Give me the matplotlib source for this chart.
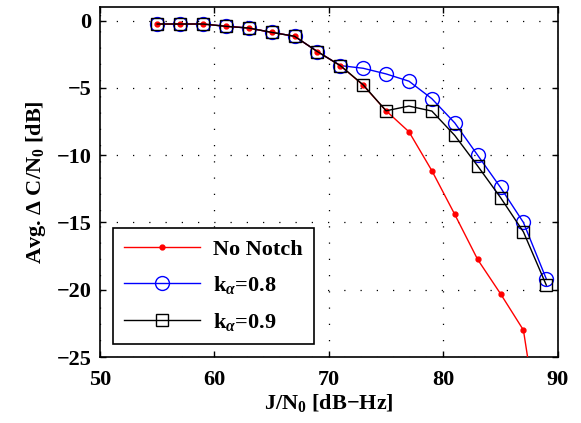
import numpy as np
import matplotlib
matplotlib.use('Agg')
import matplotlib.pyplot as plt

plt.rcParams['font.family'] = ['Liberation Serif', 'DejaVu Serif']
plt.rcParams['font.weight'] = 'bold'
plt.rcParams['mathtext.fontset'] = 'custom'
plt.rcParams['mathtext.rm'] = 'Liberation Serif:bold'
plt.rcParams['mathtext.it'] = 'Liberation Serif:italic:bold'
plt.rcParams['mathtext.bf'] = 'Liberation Serif:bold'

# J/N0 values
jn_red = [55, 57, 59, 61, 63, 65, 67, 69, 71, 73, 75, 77, 79, 81, 83, 85, 87, 89]
jn = [55, 57, 59, 61, 63, 65, 67, 69, 71, 73, 75, 77, 79, 81, 83, 85, 87, 89]

no_notch = [-0.25, -0.25, -0.25, -0.42, -0.55, -0.87, -1.16, -2.3, -3.34, -4.8,
            -6.7, -8.26, -11.15, -14.4, -17.75, -20.3, -23.0, -34.0]
k08 = [-0.25, -0.25, -0.25, -0.42, -0.55, -0.87, -1.16, -2.3, -3.34, -3.54,
       -3.96, -4.5, -5.8, -7.6, -10.0, -12.4, -15.0, -19.2]
k09 = [-0.25, -0.25, -0.25, -0.42, -0.55, -0.87, -1.16, -2.3, -3.34, -4.77,
       -6.7, -6.35, -6.72, -8.53, -10.8, -13.15, -15.7, -19.66]

fig = plt.figure(figsize=(5.81, 4.23), dpi=100)
ax = fig.add_axes([0.172, 0.156, 0.788, 0.827])

ax.plot(jn_red, no_notch, '-', color='red', marker='.', markersize=7, lw=1,
        label='No Notch', zorder=3)
ax.plot(jn, k08, '-', color='blue', marker='o', markersize=10, mfc='none',
        lw=1, label=r'k$_\alpha$=0.8', zorder=2)
ax.plot(jn, k09, '-', color='black', marker='s', markersize=9, mfc='none',
        lw=1, label=r'k$_\alpha$=0.9', zorder=4)

ax.set_xlim(50, 90)
ax.set_ylim(-25, 1)
ax.set_xticks([50, 60, 70, 80, 90])
ax.set_yticks([0, -5, -10, -15, -20, -25])
ax.set_yticklabels(['0', '\u22125', '\u221210', '\u221215', '\u221220', '\u221225'])
ax.tick_params(direction='in', top=True, right=True, labelsize=16, width=1,
               length=4)
ax.tick_params(axis='x', pad=9)
ax.tick_params(axis='y', pad=6)
ax.grid(True, linestyle=(0, (1, 12)), color='black', lw=0.9)
for s in ax.spines.values():
    s.set_linewidth(1.2)

ax.set_xlabel(r'J/N$_0$ [dB$-$Hz]', fontsize=16, fontweight='bold', labelpad=2)
ax.set_ylabel(r'Avg. $\Delta$ C/N$_0$ [dB]', fontsize=16, fontweight='bold', labelpad=6)

leg = ax.legend(loc='lower left', fontsize=16, fancybox=False, framealpha=1,
                edgecolor='black', handlelength=3.4, borderaxespad=0.6,
                labelspacing=0.65, handletextpad=0.6, borderpad=0.5)
leg.get_frame().set_linewidth(1.2)

fig.savefig('out.png', dpi=100)
